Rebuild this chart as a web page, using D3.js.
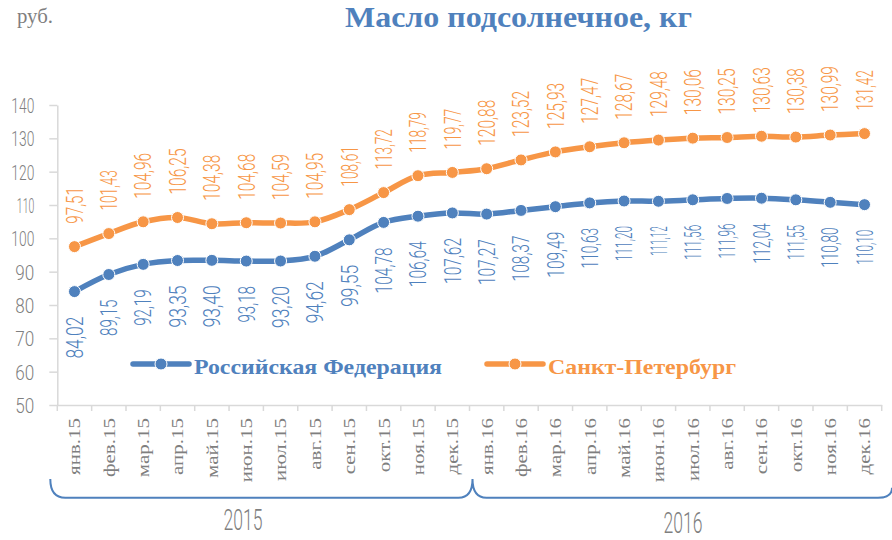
<!DOCTYPE html>
<html>
<head>
<meta charset="utf-8">
<script src="https://cdn.jsdelivr.net/npm/d3@7"></script>
<style>
  body { margin: 0; background: #fff; }
  svg { display: block; }
</style>
</head>
<body>
<svg id="canvas"></svg>
<script>
const months = ['янв.15', 'фев.15', 'мар.15', 'апр.15', 'май.15', 'июн.15', 'июл.15', 'авг.15', 'сен.15', 'окт.15', 'ноя.15', 'дек.15',
    'янв.16', 'фев.16', 'мар.16', 'апр.16', 'май.16', 'июн.16', 'июл.16', 'авг.16', 'сен.16', 'окт.16', 'ноя.16', 'дек.16'];
const russia = [84.02, 89.15, 92.19, 93.35, 93.40, 93.18, 93.20, 94.62, 99.55, 104.78, 106.64, 107.62,
    107.27, 108.37, 109.49, 110.63, 111.20, 111.12, 111.56, 111.96, 112.04, 111.55, 110.80, 110.10];
const spb = [97.51, 101.43, 104.96, 106.25, 104.38, 104.68, 104.59, 104.95, 108.61, 113.72, 118.79, 119.77,
    120.88, 123.52, 125.93, 127.47, 128.67, 129.48, 130.06, 130.25, 130.63, 130.38, 130.99, 131.42];
const yTicks = [50, 60, 70, 80, 90, 100, 110, 120, 130, 140];
const years = ['2015', '2016'];
const seriesNames = ['Российская Федерация', 'Санкт-Петербург'];

const width = 892;
const height = 540;
const blue = '#4f81bd';
const orange = '#f79646';
const grey = '#7f7f7f';
const narrow = "'Roboto', 'DejaVu Sans', sans-serif";
const serif = "'Liberation Serif', 'DejaVu Serif', serif";

const canvas = d3.select('#canvas')
    .attr('width', width)
    .attr('height', height);

const xScale = d3.scaleBand()
    .domain(months)
    .range([57.3, 881.7]);

const yScale = d3.scaleLinear()
    .domain([50, 140])
    .range([405, 105]);

const cx = m => xScale(m) + xScale.bandwidth() / 2;

// rough width of a narrow number label (ones and commas are thin)
const numLength = (s, k) => {
    let w = 0;
    for (const ch of s) {
        w += (ch === '1' || ch === ',') ? 4 : 9.5;
    }
    return w * k;
};
const fmt = v => v.toFixed(2).replace('.', ',');

// title
canvas.append('text')
    .attr('x', 345)
    .attr('y', 27)
    .attr('textLength', 347)
    .attr('lengthAdjust', 'spacingAndGlyphs')
    .style('font-family', serif)
    .style('font-weight', 'bold')
    .style('font-size', '30px')
    .style('fill', blue)
    .text('Масло подсолнечное, кг');

canvas.append('text')
    .attr('x', 17)
    .attr('y', 23)
    .attr('textLength', 36)
    .attr('lengthAdjust', 'spacingAndGlyphs')
    .style('font-family', serif)
    .style('font-size', '20px')
    .style('fill', grey)
    .text('руб.');

// y axis
const yAxis = d3.axisLeft(yScale)
    .tickValues(yTicks)
    .tickSizeInner(8)
    .tickSizeOuter(0)
    .tickPadding(15)
    .tickFormat(d3.format('d'));

const yG = canvas.append('g')
    .attr('transform', 'translate(57.3,0)')
    .call(yAxis);
yG.select('.domain').attr('stroke', '#d9d9d9').attr('stroke-width', 1.5);
yG.selectAll('.tick line').attr('stroke', '#d9d9d9').attr('stroke-width', 1.5);
yG.selectAll('.tick text')
    .attr('textLength', d => numLength(String(d), 1))
    .attr('lengthAdjust', 'spacingAndGlyphs')
    .attr('dy', '0.36em')
    .style('font-family', narrow)
    .style('font-weight', 300)
    .style('font-size', '21px')
    .style('fill', grey);

// x axis
const xAxis = d3.axisBottom(xScale)
    .tickSize(0)
    .tickPadding(0);

const xG = canvas.append('g')
    .attr('transform', 'translate(0,405)')
    .call(xAxis);
xG.select('.domain').attr('stroke', '#d9d9d9').attr('stroke-width', 1.5);
xG.selectAll('.tick text')
    .attr('transform', 'rotate(-90) scale(1,0.8)')
    .attr('x', -13)
    .attr('y', 0)
    .attr('dy', '0.35em')
    .attr('text-anchor', 'end')
    .style('font-family', serif)
    .style('font-size', '21px')
    .style('fill', grey);

const bounds = months.map(m => xScale(m)).concat([xScale.range()[1]]);
xG.selectAll('line.bound')
    .data(bounds)
    .enter()
    .append('line')
    .attr('class', 'bound')
    .attr('x1', d => d)
    .attr('x2', d => d)
    .attr('y1', 0)
    .attr('y2', 6)
    .attr('stroke', '#d9d9d9')
    .attr('stroke-width', 1.5);

// year bracket
const bx0 = xScale.range()[0] - 7;
const bmid = xScale(months[12]) + 3;
const bx1 = width;
const by = 497.7;
const btop = 479;
const bracket = d3.path();
bracket.moveTo(bx0, btop);
bracket.quadraticCurveTo(bx0, by, bx0 + 15, by);
bracket.lineTo(bmid - 14, by);
bracket.quadraticCurveTo(bmid, by, bmid, btop);
bracket.quadraticCurveTo(bmid, by, bmid + 14, by);
bracket.lineTo(bx1 - 14, by);
bracket.quadraticCurveTo(bx1, by, bx1, by - 10);

canvas.append('path')
    .attr('d', bracket.toString())
    .attr('fill', 'none')
    .attr('stroke', blue)
    .attr('stroke-width', 2);

canvas.selectAll('text.year')
    .data(years)
    .enter()
    .append('text')
    .attr('class', 'year')
    .attr('x', (d, i) => i === 0 ? 243 : 683)
    .attr('y', (d, i) => i === 0 ? 530 : 533)
    .attr('text-anchor', 'middle')
    .attr('textLength', d => numLength(d, 1.2))
    .attr('lengthAdjust', 'spacingAndGlyphs')
    .style('font-family', narrow)
    .style('font-weight', 300)
    .style('font-size', '29px')
    .style('fill', grey)
    .text(d => d);

// lines and markers
const series = [
    { name: seriesNames[0], values: russia, color: blue, side: 1 },
    { name: seriesNames[1], values: spb, color: orange, side: -1 }
];

const line = d3.line()
    .x((d, i) => cx(months[i]))
    .y(d => yScale(d))
    .curve(d3.curveCatmullRom.alpha(0.5));

series.forEach(s => {
    const g = canvas.append('g');

    g.append('path')
        .datum(s.values)
        .attr('d', line)
        .attr('fill', 'none')
        .attr('stroke', s.color)
        .attr('stroke-width', 5.5)
        .attr('stroke-linecap', 'round');

    g.selectAll('circle')
        .data(s.values)
        .enter()
        .append('circle')
        .attr('cx', (d, i) => cx(months[i]))
        .attr('cy', d => yScale(d))
        .attr('r', 6)
        .attr('fill', s.color)
        .attr('stroke', '#fff')
        .attr('stroke-width', 1);

    // rotated value labels: below for the blue line, above for the orange one
    g.selectAll('text')
        .data(s.values)
        .enter()
        .append('text')
        .attr('transform', (d, i) => {
            const off = s.side > 0 ? 25 : -23;
            return 'translate(' + cx(months[i]) + ',' + (yScale(d) + off) + ') rotate(-90)';
        })
        .attr('text-anchor', s.side > 0 ? 'end' : 'start')
        .attr('dy', '0.36em')
        .attr('textLength', d => numLength(fmt(d), 1))
        .attr('lengthAdjust', 'spacingAndGlyphs')
        .style('font-family', narrow)
        .style('font-weight', 300)
        .style('font-size', '23px')
        .style('fill', s.color)
        .text(d => fmt(d));
});

// legend
const legendX = [133, 487];
const legendText = [248, 188];
series.forEach((s, i) => {
    const lg = canvas.append('g')
        .attr('transform', 'translate(' + legendX[i] + ',364)');
    lg.append('line')
        .attr('x1', 0)
        .attr('x2', 56)
        .attr('y1', 0)
        .attr('y2', 0)
        .attr('stroke', s.color)
        .attr('stroke-width', 5.5)
        .attr('stroke-linecap', 'round');
    lg.append('circle')
        .attr('cx', 28)
        .attr('cy', 0)
        .attr('r', 6)
        .attr('fill', s.color)
        .attr('stroke', '#fff')
        .attr('stroke-width', 1);
    lg.append('text')
        .attr('x', 61)
        .attr('y', 10)
        .attr('textLength', legendText[i])
        .attr('lengthAdjust', 'spacingAndGlyphs')
        .style('font-family', serif)
        .style('font-weight', 'bold')
        .style('font-size', '21px')
        .style('fill', s.color)
        .text(s.name);
});
</script>
</body>
</html>
